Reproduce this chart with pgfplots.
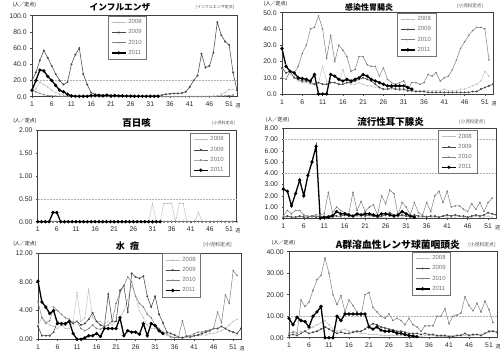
\documentclass[border=0pt]{standalone}
\usepackage{pgfplots}
\usepackage{pgfplotstable}
\pgfplotsset{compat=1.18}
\usepackage{fontspec}
\setmainfont{Liberation Sans}
\newfontfamily\cjk{Noto Sans CJK JP}
\pgfplotsset{
  s08/.style={color=black!25, line width=0.45pt, mark=*, mark size=0.5pt},
  s09/.style={color=black!72, line width=0.55pt, mark=*, mark size=0.7pt},
  s10/.style={color=black!50, line width=0.5pt, mark=*, mark size=0.55pt},
  s11/.style={color=black, line width=1.3pt, mark=*, mark size=0.9pt},
  thr/.style={forget plot, color=black!30, densely dotted, line width=0.5pt, mark=none},
  panel/.style={
    scale only axis, anchor=south west,
    xmin=1, xmax=53, ymin=0,
    xtick={1,6,...,51},
    tick pos=left, tick align=outside, major tick length=1.8pt,
    tick style={black!70, line width=0.4pt},
    axis line style={black!75, line width=0.6pt},
    ticklabel style={font=\fontsize{6.8}{7}\selectfont, text=black!85},
    /pgf/number format/assume math mode=true,
    unbounded coords=jump, clip=false,
    legend cell align=left,
    legend style={draw=black!55, line width=0.5pt, font=\fontsize{6}{6.5}\selectfont, text=black!55, anchor=north west, inner xsep=3pt, inner ysep=1.5pt, row sep=0.5pt, fill=white},
    legend image code/.code={\draw[mark repeat=2, mark phase=2, ##1] plot coordinates {(0pt,0pt) (7pt,0pt) (14pt,0pt)};},
  },
  yfmt/.style={yticklabel style={/pgf/number format/.cd, fixed, fixed zerofill, precision=#1}},
}
% Influenza
\pgfplotstableread{
w a b c d
1 6 20 8 8
2 10 30 6 20
3 18 45 4 33
4 15 57 2.5 32
5 12 48 1.5 25
6 8 38 1 20
7 5 28 0.8 14
8 3 20 0.5 8
9 2 15 0.4 6
10 1.5 18 0.3 3
11 1 40 0.2 1
12 0.8 52 0.2 0.5
13 0.5 60 0.1 0.5
14 0.3 28 0.1 0.5
15 0.2 15 0.1 0.5
16 0.1 5 0.1 1.5
17 0.1 3 0.1 1.5
18 0.1 2.5 0 1.5
19 0 2 0 1
20 0 1.5 0 2
21 0 1 0 1
22 0 0.8 0 1.5
23 0 0.5 0 1
24 0 0.4 0 1
25 0 0.3 0 0.8
26 0 0.3 0 0.8
27 0 0.3 0 0.6
28 0 0.4 0 0.6
29 0 0.5 0 0.5
30 0 0.6 0 0.5
31 0 0.8 0 0.5
32 0 1 0 0.5
33 0 1.5 0 0.5
34 0 2 0 nan
35 0 3 0 nan
36 0 3.5 0 nan
37 0 4 0.1 nan
38 0 4 0.1 nan
39 0 4.5 0.1 nan
40 0 6 0.1 nan
41 0 12 0.1 nan
42 0 20 0.2 nan
43 0 26 0.2 nan
44 0 53 0.2 nan
45 0.1 36 0.3 nan
46 0.2 38 0.4 nan
47 0.5 54 0.5 nan
48 1 92 0.6 nan
49 3 76 0.8 nan
50 5 68 1 nan
51 9 64 1.5 nan
52 9 30 2 nan
53 nan 8 nan nan
}\tA
% Gastroenteritis
\pgfplotstableread{
w a b c d
1 15 16 10 28
2 18 13 9 17
3 12 14 14 14
4 11 10 13 13
5 8 9 17 10
6 7 8 25 9.5
7 7 8 30 9
8 6 7 40 8
9 6 6 41 12
10 7 7 48 0
11 17 6 40 0
12 8 6 22 0
13 7 7 36 12
14 7 7 20 11
15 6 6 30 9
16 15 6 27 8
17 7 7 23 9
18 6 7 14 8
19 6 8 15 9
20 7 9 23 10
21 6 10 23 12
22 5 9 18 11
23 5 8 17 9
24 4 6 17 8
25 4 4 11 7
26 3 3 16 6
27 3 3 9 5
28 3 4 7 5
29 3 3 6 5
30 2 3 7 5
31 2 3 8 5
32 2 2 3 4
33 2 2 7 3
34 2 1.5 7 nan
35 2 1.5 6 nan
36 2 1.5 7 nan
37 2 1 12 nan
38 2 1 11 nan
39 2 1 13 nan
40 2 1 8 nan
41 3 1 10 nan
42 2 1 11 nan
43 2 1 15 nan
44 2 1 21 nan
45 3 1 28 nan
46 3 1 32 nan
47 4 1 36 nan
48 5 1.5 39 nan
49 6 1.5 41 nan
50 8 3 41 nan
51 14 4 40 nan
52 11 5 21 nan
53 nan 6 nan nan
}\tB
% Pertussis
\pgfplotstableread{
w a b c d
1 0 0 0 0
2 0 0 0 0
3 0 0 0 0
4 0 0 0 0
5 0 0 0 0.2
6 0 0 0 0.2
7 0 0 0 0
8 0 0 0 0
9 0 0 0 0
10 0 0 0 0
11 0 0 0 0
12 0 0 0 0
13 0 0 0 0
14 0 0 0 0
15 0 0 0 0
16 0 0 0 0
17 0 0 0 0
18 0 0 0 0
19 0 0 0 0
20 0 0 0 0
21 0 0 0 0
22 0 0 0 0
23 0 0 0 0
24 0 0 0 0
25 0 0 0 0
26 0 0 0 0
27 0 0 0 0
28 0 0 0 0
29 0 0 0 0
30 0 0 0 0
31 0.4 0 0 0
32 0 0 0 0
33 0 0 0 0
34 0.4 0 0 nan
35 0.4 0 0 nan
36 0.4 0 0 nan
37 0 0 0 nan
38 0.4 0 0 nan
39 0.4 0 0 nan
40 0 0 0 nan
41 0 0 0 nan
42 0 0 0 nan
43 0.2 0 0 nan
44 0 0 0 nan
45 0 0 0 nan
46 0 0 0 nan
47 0 0 0 nan
48 0 0 0 nan
49 0 0 0 nan
50 0 0 0 nan
51 0 0 0 nan
52 0 0 0 nan
53 nan 0 nan nan
}\tC
% Mumps
\pgfplotstableread{
w a b c d
1 0.1 0.1 0.2 2.6
2 0.1 0.2 0.7 2.4
3 0.2 0.1 0.4 1.1
4 0.1 0.1 0.7 2.2
5 0.1 0.2 0.7 3.4
6 0.2 0.1 0.3 2.0
7 0.1 0.1 0.2 3.8
8 0.1 0.2 0.2 5.0
9 0.1 0.1 0.3 6.4
10 0.2 0.2 0.3 0
11 0.1 0.1 0.4 0.1
12 0.1 0.2 2.3 0.1
13 0.1 0.3 0.5 0.2
14 0.2 0.2 1.0 0.6
15 0.1 0.2 0.7 0.4
16 0.1 0.3 0.5 0.4
17 0.1 0.2 0.4 0.3
18 0.1 0.2 2.3 0.2
19 0.2 0.3 0.7 0.4
20 0.1 0.3 1.5 0.3
21 0.1 0.2 0.6 0.4
22 0.1 0.3 1.0 0.4
23 0.2 0.2 1.2 0.3
24 0.1 0.1 0.3 0.2
25 0.1 0.2 2.0 0.4
26 0.1 0.3 1.3 0.4
27 0.2 0.5 2.5 0.3
28 0.1 0.3 2.2 0.2
29 0.1 0.2 0.3 0.3
30 0.1 0.3 1.4 0.6
31 0.2 0.2 1.0 0.4
32 0.1 0.2 0.3 0.2
33 0.1 0.3 1.4 0.1
34 0.1 0.2 0.5 nan
35 0.1 0.2 0.3 nan
36 0.2 0.1 1.4 nan
37 0.1 0.2 0.6 nan
38 0.1 0.2 2.0 nan
39 0.1 0.1 2.4 nan
40 0.2 0.2 1.4 nan
41 0.1 0.3 2.4 nan
42 0.1 0.2 1.0 nan
43 0.1 0.3 1.1 nan
44 0.2 0.2 1.1 nan
45 0.1 0.2 0.8 nan
46 0.1 0.1 0.6 nan
47 0.1 0.2 1.3 nan
48 0.2 0.3 0.8 nan
49 0.1 0.2 1.4 nan
50 0.1 0.3 0.6 nan
51 0.2 0.5 1.4 nan
52 0.1 0.4 1.8 nan
53 nan 0.3 nan nan
}\tD
% Chickenpox
\pgfplotstableread{
w a b c d
1 2.0 1.8 5.2 8.1
2 3.0 0.5 3.0 5.2
3 2.5 0.5 2.2 4.5
4 2.0 0.5 2.6 3.6
5 1.8 1.0 4.5 4.0
6 1.5 2.5 4.0 2.2
7 2.0 2.0 3.5 2.2
8 1.5 2.0 3.0 2.2
9 1.5 2.5 2.8 2.5
10 2.5 2.2 2.3 0.8
11 6.5 2.5 2.5 0
12 2.5 2.0 1.5 0
13 3.0 2.2 1.2 0.2
14 7.0 2.8 1.5 0.5
15 3.0 3.7 2.0 0.5
16 2.5 2.5 1.5 0.8
17 2.5 2.0 1.4 0.4
18 2.0 1.8 1.8 1.5
19 2.5 6.3 2.0 1.5
20 2.0 2.5 2.5 1.5
21 2.5 2.5 5.0 1.5
22 3.0 6.8 6.5 3.0
23 4.0 7.5 7.5 0.5
24 5.5 3.8 8.7 1.2
25 7.5 9.2 8.0 1.0
26 6.0 8.7 6.0 1.0
27 4.0 8.5 5.0 0.7
28 3.0 8.8 4.5 2.2
29 2.0 6.0 3.5 0.5
30 1.5 4.5 3.0 2.2
31 1.5 6.0 2.0 1.9
32 1.0 3.5 1.5 1.2
33 0.8 2.3 1.0 0.8
34 0.5 1.0 0.8 nan
35 0.4 0.8 0.3 nan
36 0.3 0.6 0.2 nan
37 0.2 0.3 0.3 nan
38 0.3 0.2 2.6 nan
39 0.3 0.4 0.5 nan
40 0.4 0.3 0.5 nan
41 0.5 0.5 0.8 nan
42 0.5 0.6 1.0 nan
43 0.6 0.8 1.0 nan
44 0.6 1.0 1.2 nan
45 0.8 1.2 1.3 nan
46 0.8 1.5 1.5 nan
47 1.0 1.5 3.8 nan
48 1.2 1.8 2.3 nan
49 1.5 1.5 6.2 nan
50 2.0 1.2 5.0 nan
51 2.5 1.0 9.6 nan
52 2.8 0.8 8.9 nan
53 nan 1.5 nan nan
}\tE
% Group A strep
\pgfplotstableread{
w a b c d
1 3 1 2 9
2 3 1.5 2.5 6
3 2.5 1 2 9.5
4 3 2 17.5 8
5 3 3 14.5 7.5
6 4 2 16.5 5
7 5 2.5 22 10
8 6 3 27 12
9 7 4 29 14.5
10 8 5 37 0
11 6 4 30 0
12 4 3 20 0
13 3 2 15.5 10
14 3.5 2.5 19.5 8
15 4 2 12 11
16 3 2 17.5 11
17 3 2.5 15 11
18 2.5 3 12 11
19 2 3 10 11
20 2 4 20 11
21 1.5 5.5 21 5
22 1.5 6.5 14 4
23 1.5 6 12 5
24 1 5 10 3.5
25 1 4.5 9 3
26 1 4 11 3
27 1 3.5 8 3
28 1 3 9 2
29 1 3 8 2
30 1 2.5 6 1.5
31 0.5 2 9 1
32 0.5 2 6 0.8
33 0.5 2 5 0.5
34 0.5 1.5 3 nan
35 1 2 5.5 nan
36 1 1.5 5.5 nan
37 1 1.5 5.5 nan
38 0.5 1 10 nan
39 0.5 1 10 nan
40 0.5 1 13.5 nan
41 1 0.5 6.5 nan
42 1 0.5 10 nan
43 1 1 10.5 nan
44 1.5 1 11.5 nan
45 1 2 19 nan
46 1.5 1 15 nan
47 1 1.5 12.5 nan
48 1.5 1.5 16 nan
49 1.5 1 12 nan
50 2 2 17 nan
51 2.5 3 13 nan
52 3 3 7 nan
53 nan 2.5 nan nan
}\tF
\newcommand{\series}[1]{%
  \addplot[s08] table[x=w,y=a]{#1};
  \addplot[s09] table[x=w,y=b]{#1};
  \addplot[s10] table[x=w,y=c]{#1};
  \addplot[s11] table[x=w,y=d]{#1};
  \legend{2008,2009,2010,2011}%
  \node[font=\cjk\fontsize{5}{5}\selectfont, text=black!80, anchor=north] at (axis cs:53.3,0) [yshift=-3.5pt] {週};
}
\newcommand{\unit}{\cjk\fontsize{5}{5}\selectfont (人／定点)}
\begin{document}
\begin{tikzpicture}
\useasboundingbox (0pt,0pt) rectangle (501pt,355pt);
% Panel 1
\begin{axis}[panel, at={(32pt,258.3pt)}, width=205pt, height=81pt, ymax=100, ytick={0,20,...,100}, yfmt=1,
  legend style={at={(0.37,1.0)}}]
\addplot[thr] coordinates {(1,20) (53,20)};
\series{\tA}
\end{axis}
% Panel 2
\begin{axis}[panel, at={(282pt,261pt)}, width=211pt, height=81.3pt, ymax=50, ytick={0,10,...,50}, yfmt=1,
  legend style={at={(0.545,1.0)}}]
\series{\tB}
\end{axis}
% Panel 3
\begin{axis}[panel, at={(37.7pt,133.3pt)}, width=199pt, height=91.7pt, ymax=2, ytick={0,0.5,...,2}, yfmt=2,
  legend style={at={(0.765,0.967)}}]
\addplot[thr] coordinates {(1,0.5) (53,0.5)};
\series{\tC}
\end{axis}
% Panel 4
\begin{axis}[panel, at={(283.3pt,136.7pt)}, width=213pt, height=90pt, ymax=8, ytick={0,1,...,8}, yfmt=2,
  legend style={at={(0.726,0.98)}}]
\addplot[thr] coordinates {(1,7) (53,7)};
\addplot[thr] coordinates {(1,4) (53,4)};
\series{\tD}
\end{axis}
% Panel 5
\begin{axis}[panel, at={(38pt,15.7pt)}, width=203pt, height=86pt, ymax=12, ytick={0,4,8,12}, yfmt=2,
  legend style={at={(0.61,1.0)}}]
\series{\tE}
\end{axis}
% Panel 6
\begin{axis}[panel, at={(289pt,17.3pt)}, width=208pt, height=86pt, ymax=40, ytick={0,10,...,40}, yfmt=2,
  legend style={at={(0.59,1.0)}}]
\addplot[thr] coordinates {(1,10) (53,10)};
\series{\tF}
\end{axis}
% titles
\node[font=\cjk\bfseries\fontsize{8.7}{9}\selectfont] at (120pt,348pt) {インフルエンザ};
\node[font=\cjk\bfseries\fontsize{8}{9}\selectfont] at (369pt,348pt) {感染性胃腸炎};
\node[font=\cjk\bfseries\fontsize{9.5}{10}\selectfont] at (136.7pt,232pt) {百日咳};
\node[font=\cjk\bfseries\fontsize{9.5}{10}\selectfont] at (390.5pt,232.7pt) {流行性耳下腺炎};
\node[font=\cjk\bfseries\fontsize{9}{10}\selectfont] at (127.5pt,109pt) {水\hspace{0.6em}痘};
\node[font=\cjk\bfseries\fontsize{9.8}{10}\selectfont] at (398pt,110pt) {A群溶血性レンサ球菌咽頭炎};
% unit labels
\node at (24.5pt,350pt) {\unit};
\node at (275.5pt,351pt) {\unit};
\node at (25pt,234pt) {\unit};
\node at (277.5pt,235pt) {\unit};
\node at (25pt,111pt) {\unit};
\node at (283.5pt,112pt) {\unit};
% right labels
\node[font=\cjk\fontsize{4}{4}\selectfont, text=black!75] at (215pt,348pt) {[インフルエンザ定点]};
\node[font=\cjk\fontsize{4.5}{5}\selectfont, text=black!75] at (470pt,349pt) {[小児科定点]};
\node[font=\cjk\fontsize{4}{4}\selectfont, text=black!75] at (223.5pt,232pt) {[小児科定点]};
\node[font=\cjk\fontsize{4.5}{5}\selectfont, text=black!75] at (472pt,233pt) {[小児科定点]};
\node[font=\cjk\fontsize{5}{5}\selectfont, text=black!75] at (217.5pt,110pt) {[小児科定点]};
\node[font=\cjk\fontsize{4.8}{5}\selectfont, text=black!75] at (482pt,110pt) {[小児科定点]};
\end{tikzpicture}
\end{document}
